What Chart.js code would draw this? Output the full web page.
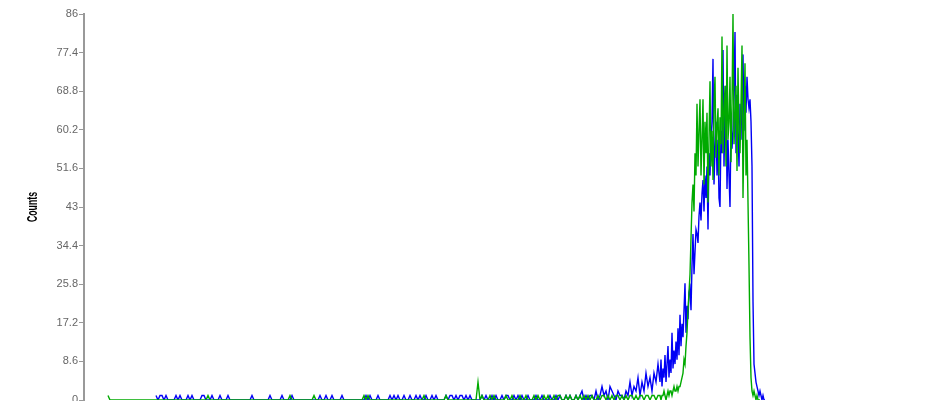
<!DOCTYPE html>
<html>
<head>
<meta charset="utf-8">
<title>Counts</title>
<script src="https://cdn.jsdelivr.net/npm/chart.js@4/dist/chart.umd.min.js"></script>
<style>
  html, body { margin: 0; padding: 0; background: #fff; overflow: hidden; }
  canvas { display: block; }
</style>
</head>
<body>
<canvas id="countsChart" width="938" height="401"></canvas>
<script>
// Channel range shown along the (hidden) x axis
const CHANNEL_MIN = 0;
const CHANNEL_MAX = 854;

// Y axis tick labels
const Y_TICKS = [0, 8.6, 17.2, 25.8, 34.4, 43, 51.6, 60.2, 68.8, 77.4, 86];
const Y_TITLE = "Counts";

// Low channels are stored every 2nd channel, the peak region channel by channel
const LOW_STEP = 2;
const PEAK_START = 576;

// Green trace, low region (from channel 24, step 2)
const GREEN_LOW_START = 24;
const GREEN_LOW = [
  1, 0, 0, 0, 0, 0, 0, 0, 0, 0, 0, 0, 0, 0, 0, 0, 0, 0, 0, 0,       // 24
  0, 0, 0, 0, 0, 0, 0, 0, 0, 0, 0, 0, 0, 0, 0, 0, 0, 0, 0, 0,       // 64
  0, 0, 0, 0, 0, 0, 0, 0, 0, 0, 1, 0, 0, 0, 0, 0, 0, 0, 0, 0,       // 104
  0, 0, 0, 0, 0, 0, 0, 0, 0, 0, 0, 0, 0, 0, 0, 0, 0, 0, 0, 0,       // 144
  0, 0, 0, 0, 0, 0, 0, 0, 0, 0, 0, 1, 0, 0, 0, 0, 0, 0, 0, 0,       // 184
  0, 0, 0, 1, 0, 0, 0, 0, 0, 0, 0, 0, 0, 0, 0, 0, 0, 0, 0, 0,       // 224
  0, 0, 0, 0, 0, 0, 0, 0, 1, 0, 1, 0, 0, 0, 0, 0, 0, 0, 0, 0,       // 264
  0, 0, 0, 0, 0, 0, 0, 0, 0, 0, 0, 0, 0, 0, 0, 0, 0, 0, 1, 0,       // 304
  0, 0, 0, 0, 0, 0, 0, 0, 0, 1, 0, 0, 0, 0, 0, 0, 0, 0, 0, 0,       // 344
  0, 0, 0, 0, 0, 4, 0, 1, 0, 0, 0, 1, 0, 1, 0, 0, 0, 0, 0, 1,       // 384
  0, 0, 1, 0, 0, 0, 1, 0, 0, 1, 0, 0, 0, 1, 0, 1, 0, 0, 1, 0,       // 424
  1, 0, 0, 1, 0, 1, 1, 0, 0, 1, 0, 1, 0, 0, 1, 0, 1, 0, 1, 0,       // 464
  1, 0, 1, 0, 0, 1, 0, 1, 1, 0, 1, 0, 1, 0, 1, 1, 0, 1, 0, 1,       // 504
  0, 1, 1, 0, 1, 0, 1, 1, 0, 1, 1, 0, 1, 1, 0, 1                    // 544
];

// Green trace, peak region (from channel 576, step 1)
const GREEN_PEAK = [
  1, 0, 1, 1, 2, 1, 0, 1, 2, 1,             // 576
  2, 2, 1, 2, 3, 2, 2, 3, 2, 3,             // 586
  3, 4, 5, 6, 9, 8, 12, 15, 20, 24,         // 596
  28, 36, 44, 48, 42, 55, 50, 66, 52, 60,   // 606
  67, 50, 58, 67, 48, 62, 55, 64, 44, 58,   // 616
  71, 52, 60, 49, 66, 72, 54, 61, 65, 50,   // 626
  63, 57, 81, 55, 64, 70, 52, 79, 58, 62,   // 636
  72, 53, 66, 86, 57, 63, 70, 51, 74, 60,   // 646
  55, 66, 79, 45, 62, 75, 50, 58, 44, 30,   // 656
  14, 5, 2, 1, 2, 1, 0, 1, 0, 0, 0          // 666
];

// Blue trace, low region (from channel 72, step 2)
const BLUE_LOW_START = 72;
const BLUE_LOW = [
  1, 0, 1, 1, 0, 1, 0, 0, 0, 0, 1, 0, 1, 0, 0, 0, 1, 0, 1, 0,       // 72
  0, 0, 0, 1, 1, 0, 0, 0, 1, 0, 0, 0, 1, 0, 0, 0, 1, 0, 0, 0,       // 112
  0, 0, 0, 0, 0, 0, 0, 0, 1, 0, 0, 0, 0, 0, 0, 0, 0, 1, 0, 0,       // 152
  0, 0, 0, 1, 0, 0, 0, 0, 1, 0, 0, 0, 0, 0, 0, 0, 0, 0, 0, 0,       // 192
  0, 0, 1, 0, 0, 1, 0, 0, 1, 0, 0, 0, 0, 1, 0, 0, 0, 0, 0, 0,       // 232
  0, 0, 0, 0, 0, 1, 0, 1, 0, 0, 0, 1, 0, 0, 0, 0, 0, 1, 0, 1,       // 272
  0, 1, 0, 0, 1, 0, 0, 1, 0, 0, 1, 0, 1, 0, 0, 1, 0, 0, 1, 0,       // 312
  1, 0, 0, 0, 0, 1, 0, 1, 1, 0, 1, 0, 1, 1, 0, 1, 0, 1, 0, 0,       // 352
  0, 0, 0, 1, 0, 1, 0, 0, 1, 0, 1, 0, 0, 1, 0, 1, 1, 0, 0, 1,       // 392
  0, 1, 0, 1, 0, 0, 1, 0, 0, 0, 1, 0, 0, 1, 0, 0, 0, 1, 0, 0,       // 432
  1, 0, 1, 0, 0, 1, 0, 1, 0, 0, 1, 0, 1, 2, 0, 1, 0, 1, 1, 0,       // 472
  2, 0, 1, 3, 1, 2, 0, 3, 2, 1, 0, 2, 1, 1, 0, 2, 1, 4, 1, 3,       // 512
  2, 5, 1, 4, 2, 6, 3, 5, 2, 6, 4, 8                                // 552
];

// Blue trace, peak region (from channel 576, step 1)
const BLUE_PEAK = [
  4, 9, 3, 7, 5, 10, 4, 8, 12, 5,           // 576
  9, 6, 15, 7, 11, 8, 13, 9, 16, 10,        // 586
  19, 12, 17, 14, 20, 26, 15, 21, 18, 24,   // 596
  25, 20, 30, 37, 28, 33, 38, 37, 35, 41,   // 606
  44, 40, 46, 49, 42, 50, 45, 52, 38, 55,   // 616
  50, 58, 62, 76, 48, 56, 62, 50, 58, 45,   // 626
  43, 60, 55, 78, 52, 64, 70, 47, 58, 50,   // 636
  43, 62, 56, 60, 68, 82, 55, 68, 60, 52,   // 646
  66, 58, 70, 77, 60, 70, 64, 72, 67, 65,   // 656
  67, 62, 52, 22, 8, 6, 4, 3, 2, 1,         // 666
  2, 1, 0, 1, 0, 0                          // 676
];

const toPoints = (start, step, counts) =>
  counts.map((y, i) => ({ x: start + i * step, y }));

const greenPoints = toPoints(GREEN_LOW_START, LOW_STEP, GREEN_LOW)
  .concat(toPoints(PEAK_START, 1, GREEN_PEAK));
const bluePoints = toPoints(BLUE_LOW_START, LOW_STEP, BLUE_LOW)
  .concat(toPoints(PEAK_START, 1, BLUE_PEAK));

// Rotated, narrow axis title drawn beside the y axis
const yTitlePlugin = {
  id: "yTitle",
  afterDraw(chart) {
    const { ctx, chartArea } = chart;
    ctx.save();
    ctx.translate(33, (chartArea.top + chartArea.bottom) / 2);
    ctx.rotate(-Math.PI / 2);
    ctx.font = 'bold 14px "Liberation Sans", Arial, sans-serif';
    const w = ctx.measureText(Y_TITLE).width;
    ctx.scale(30 / w, 1);
    ctx.textAlign = "center";
    ctx.textBaseline = "middle";
    ctx.fillStyle = "#000";
    ctx.fillText(Y_TITLE, 0, 0);
    ctx.restore();
  },
};

const ctx = document.getElementById("countsChart").getContext("2d");
new Chart(ctx, {
  type: "line",
  data: {
    datasets: [
      {
        label: "Green",
        data: greenPoints,
        borderColor: "rgb(0, 170, 0)",
        borderWidth: 1.4,
        pointRadius: 0,
        tension: 0,
      },
      {
        label: "Blue",
        data: bluePoints,
        borderColor: "rgb(0, 0, 245)",
        borderWidth: 1.4,
        pointRadius: 0,
        tension: 0,
      },
    ],
  },
  options: {
    responsive: false,
    animation: false,
    devicePixelRatio: 1,
    layout: { padding: { top: 14, bottom: 1, left: 0, right: 0 } },
    plugins: {
      legend: { display: false },
      tooltip: { enabled: false },
    },
    scales: {
      x: {
        type: "linear",
        min: CHANNEL_MIN,
        max: CHANNEL_MAX,
        display: false,
      },
      y: {
        min: 0,
        max: 86,
        afterBuildTicks: (scale) => {
          scale.ticks = Y_TICKS.map((v) => ({ value: v }));
        },
        afterFit: (scale) => {
          scale.width = 84;
          scale.paddingTop = 0;
          scale.paddingBottom = 0;
        },
        ticks: {
          color: "#666",
          padding: 1,
          font: { family: '"Liberation Sans", Arial, sans-serif', size: 11 },
          callback: (v) => String(v),
        },
        grid: {
          drawOnChartArea: false,
          drawTicks: true,
          tickLength: 5,
          color: "#999",
        },
        border: { display: true, color: "#999", width: 2 },
      },
    },
  },
  plugins: [yTitlePlugin],
});
</script>
</body>
</html>
